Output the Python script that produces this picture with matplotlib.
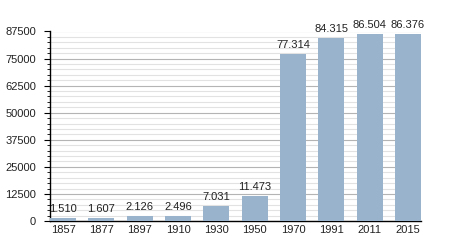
import matplotlib.pyplot as plt
from matplotlib.ticker import MultipleLocator

years = ['1857', '1877', '1897', '1910', '1930', '1950', '1970', '1991', '2011', '2015']
population = [1510, 1607, 2126, 2496, 7031, 11473, 77314, 84315, 86504, 86376]

plt.rcParams['font.family'] = ['Liberation Sans', 'DejaVu Sans']

fig = plt.figure(figsize=(4.5, 2.5), dpi=100)
ax = fig.add_axes([50 / 450, 29 / 250, 371 / 450, 189.5 / 250])

x = range(len(years))
ax.bar(x, population, width=0.68, color='#99b3cc', zorder=3)

# etiquettes au-dessus des barres
for xi, v in zip(x, population):
    lab = f'{v:,}'.replace(',', '.')
    ax.text(xi, v + 1800, lab, ha='center', va='bottom', fontsize=8,
            color='#222222', clip_on=False)

ax.set_xlim(-0.34, 9.34)
ax.set_ylim(0, 87500)
ax.set_xticks(list(x))
ax.set_xticklabels(years)
ax.yaxis.set_major_locator(MultipleLocator(12500))
ax.yaxis.set_minor_locator(MultipleLocator(2500))

ax.grid(True, axis='y', which='major', color='#b4b4b4', linewidth=0.8, zorder=0)
ax.grid(True, axis='y', which='minor', color='#e2e2e2', linewidth=0.8, zorder=0)

for s in ['top', 'right']:
    ax.spines[s].set_visible(False)
ax.spines['left'].set_linewidth(1.0)
ax.spines['bottom'].set_linewidth(1.0)

ax.tick_params(axis='x', length=0, labelsize=8, pad=3, labelcolor='#222222')
ax.tick_params(axis='y', which='major', length=4, labelsize=8, pad=6,
               labelcolor='#222222')
ax.tick_params(axis='y', which='minor', length=2)

fig.savefig('out.png', dpi=100)
